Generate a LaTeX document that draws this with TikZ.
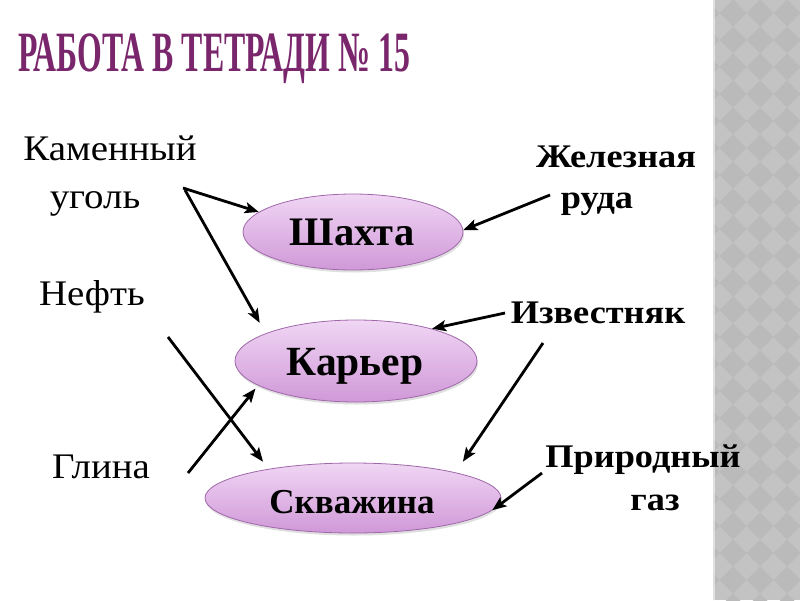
\documentclass[tikz,border=0pt]{standalone}
\usepackage{fontspec}
\setmainfont{Liberation Serif}
\newfontfamily\lblfont[FakeStretch=1.08]{Liberation Serif}
\newfontfamily\rlblfont[FakeStretch=1.1]{Liberation Serif}
\usetikzlibrary{arrows.meta,shapes.geometric,shadows}
\definecolor{titlec}{RGB}{122,38,108}
\definecolor{bandc}{RGB}{195,195,195}
\definecolor{banddark}{RGB}{186,186,186}
\definecolor{elltop}{RGB}{240,214,244}
\definecolor{ellmid}{RGB}{226,184,232}
\definecolor{ellbot}{RGB}{208,152,216}
\definecolor{ellborder}{RGB}{160,104,170}
\begin{document}
\begin{tikzpicture}[x=1pt,y=-1pt,
  ellbox/.style={ellipse, draw=ellborder, line width=0.8pt, top color=elltop, middle color=ellmid, bottom color=ellbot, inner sep=0pt,
    drop shadow={opacity=0.25, shadow xshift=1pt, shadow yshift=-2.5pt}},
  plainlbl/.style={anchor=base, inner sep=0pt, font=\lblfont\fontsize{36}{40}\selectfont},
  boldlbl/.style={anchor=base, inner sep=0pt, font=\rlblfont\fontsize{33}{36}\selectfont\bfseries},
  elltext/.style={anchor=base, inner sep=0pt, font=\bfseries},
  arr/.style={line width=2.8pt, -{Stealth[length=14pt,width=11pt,inset=3pt]}}
]
\useasboundingbox (0,0) rectangle (800,600);
\fill[white] (0,0) rectangle (800,600);
% right band
\begin{scope}
\clip (713,0) rectangle (800,600);
\fill[bandc] (713,0) rectangle (800,600);
\foreach \i in {-1,...,3}{\foreach \j in {-1,...,22}{
  \fill[banddark] ({733+27*\i},{13+27*\j}) +(0,-13.5) -- +(13.5,0) -- +(0,13.5) -- +(-13.5,0) -- cycle;}}
\fill[white,opacity=0.5] (713,0) rectangle (715,600);
\end{scope}
% title
\node[anchor=base west, inner sep=0pt, text=titlec] (title) at (18,71)
  {\resizebox{392pt}{\height}{\fontsize{57}{60}\selectfont\bfseries РАБОТА В ТЕТРАДИ № 15}};
% ellipses
\node[ellbox, minimum width=220pt, minimum height=76pt] (shaxta) at (353,232) {};
\node[ellbox, minimum width=242pt, minimum height=82pt] (karier) at (356,361) {};
\node[ellbox, minimum width=296pt, minimum height=70pt] (skv) at (353,498) {};
\node[elltext, font=\fontsize{40.5}{42}\selectfont\bfseries] (shaxtat) at (352,245) {Шахта};
\node[elltext, font=\fontsize{41.5}{44}\selectfont\bfseries] (kariert) at (355,375) {Карьер};
\node[elltext, font=\fontsize{35}{38}\selectfont\bfseries] (skvt) at (352,513) {Скважина};
% left labels
\node[plainlbl] (kam) at (110,160) {Каменный};
\node[plainlbl] (ugol) at (95,208) {уголь};
\node[plainlbl] (neft) at (92,305) {Нефть};
\node[plainlbl] (glina) at (101,478) {Глина};
% right labels
\node[boldlbl] (zhel) at (616,167) {Железная};
\node[boldlbl] (ruda) at (597,208) {руда};
\node[boldlbl] (izv) at (598,323) {Известняк};
\node[boldlbl] (prir) at (643,467) {Природный};
\node[boldlbl] (gaz) at (655,510) {газ};
% arrow start points
\coordinate (ugol-a) at (183,188);
\coordinate (ugol-b) at (185,190);
\coordinate (neft-a) at (168,337);
\coordinate (glina-a) at (188,473);
\coordinate (ruda-a) at (550,195);
\coordinate (izv-a) at (505,313);
\coordinate (izv-b) at (543,343);
\coordinate (gaz-a) at (542,473);
% arrows
\draw[arr] (ugol-a) -- (shaxta.168);
\draw[arr, shorten >=12pt] (ugol-b) -- (karier.163);
\draw[arr, shorten >=9pt] (neft-a) -- (skv.161);
\draw[arr, shorten >=4pt] (glina-a) -- (karier.194);
\draw[arr] (ruda-a) -- (shaxta.1);
\draw[arr] (izv-a) -- (karier.23);
\draw[arr, shorten >=13pt] (izv-b) -- (skv.14);
\draw[arr] (gaz-a) -- (skv.-5);
\end{tikzpicture}
\end{document}
